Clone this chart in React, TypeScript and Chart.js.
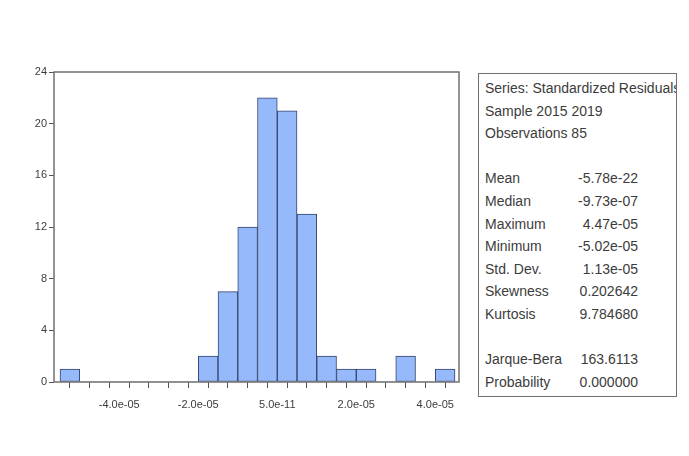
import React, { useEffect, useRef } from "react";
import { Chart, registerables } from "chart.js";

Chart.register(...registerables);

// Histogram bins (centres) and counts
const binCenters = [
  -5.25e-5, -4.75e-5, -4.25e-5, -3.75e-5, -3.25e-5, -2.75e-5, -2.25e-5,
  -1.75e-5, -1.25e-5, -7.5e-6, -2.5e-6, 2.5e-6, 7.5e-6, 1.25e-5, 1.75e-5,
  2.25e-5, 2.75e-5, 3.25e-5, 3.75e-5, 4.25e-5,
];
const counts = [1, 0, 0, 0, 0, 0, 0, 2, 7, 12, 22, 21, 13, 2, 1, 1, 0, 2, 0, 1];

// X axis: minor ticks at bin edges, labelled majors
const xEdges = [
  -5.5e-5, -5.0e-5, -4.5e-5, -4.0e-5, -3.5e-5, -3.0e-5, -2.5e-5, -2.0e-5,
  -1.5e-5, -1.0e-5, -5.0e-6, 0, 5.0e-6, 1.0e-5, 1.5e-5, 2.0e-5, 2.5e-5,
  3.0e-5, 3.5e-5, 4.0e-5, 4.5e-5,
];
const xMajorValues = [-4.0e-5, -2.0e-5, 0, 2.0e-5, 4.0e-5];
const xMajorLabels = ["-4.0e-05", "-2.0e-05", "5.0e-11", "2.0e-05", "4.0e-05"];
const xMin = -5.652e-5;
const xMax = 4.601e-5;

const yMin = 0;
const yMax = 24;
const yStep = 4;

// Statistics box
const headerLines = ["Series: Standardized Residuals", "Sample 2015 2019", "Observations 85"];
const statLabels = ["Mean", "Median", "Maximum", "Minimum", "Std. Dev.", "Skewness", "Kurtosis"];
const statValues = ["-5.78e-22", "-9.73e-07", "4.47e-05", "-5.02e-05", "1.13e-05", "0.202642", "9.784680"];
const testLabels = ["Jarque-Bera", "Probability"];
const testValues = ["163.6113", "0.000000"];

const FONT = "'Liberation Sans', Arial, sans-serif";
const TEXT = "#3c3c3c";
const FRAME = "#707070";

const framePlugin = {
  id: "frame",
  afterDraw(chart: any) {
    const { ctx, chartArea } = chart;
    ctx.save();
    ctx.strokeStyle = FRAME;
    ctx.lineWidth = 1.5;
    ctx.strokeRect(
      chartArea.left,
      chartArea.top,
      chartArea.right - chartArea.left,
      chartArea.bottom - chartArea.top
    );
    ctx.restore();
  },
};

const bgPlugin = {
  id: "bg",
  beforeDraw(chart: any) {
    const { ctx, width, height } = chart;
    ctx.save();
    ctx.fillStyle = "#ffffff";
    ctx.fillRect(0, 0, width, height);
    ctx.restore();
  },
};

function HistChart() {
  const ref = useRef<HTMLCanvasElement | null>(null);
  useEffect(() => {
    if (!ref.current) return;
    const chart = new Chart(ref.current, {
      type: "bar",
      data: {
        datasets: [
          {
            data: binCenters.map((x, i) => ({ x, y: counts[i] })),
            backgroundColor: "#96b9fb",
            borderColor: "#34446e",
            borderWidth: (c: any) => (c.raw && c.raw.y > 0 ? 1 : 0),
            borderSkipped: false,
            barPercentage: 1,
            categoryPercentage: 1,
            grouped: false,
          } as any,
        ],
      },
      options: {
        animation: false,
        responsive: false,
        maintainAspectRatio: false,
        layout: { padding: { left: 0, top: 72, right: 230, bottom: 0 } },
        plugins: {
          legend: { display: false },
          tooltip: { enabled: false },
        },
        scales: {
          x: {
            type: "linear",
            min: xMin,
            max: xMax,
            offset: false,
            border: { display: false },
            grid: {
              drawOnChartArea: false,
              drawTicks: true,
              tickLength: 6,
              tickColor: "#555",
              lineWidth: 1,
            },
            afterBuildTicks(scale: any) {
              scale.ticks = xEdges.map((v) => ({ value: v }));
            },
            afterFit(scale: any) {
              scale.height = 74;
            },
            ticks: {
              autoSkip: false,
              maxRotation: 0,
              minRotation: 0,
              padding: 10,
              color: TEXT,
              font: { family: FONT, size: 11 },
              callback(value: any) {
                const v = Number(value);
                const idx = xMajorValues.findIndex((m) => Math.abs(m - v) < 1e-9);
                return idx >= 0 ? xMajorLabels[idx] : "";
              },
            },
          },
          y: {
            min: yMin,
            max: yMax,
            border: { display: false },
            grid: {
              drawOnChartArea: false,
              drawTicks: true,
              tickLength: 5,
              tickColor: "#555",
            },
            afterFit(scale: any) {
              scale.width = 54;
            },
            ticks: {
              stepSize: yStep,
              padding: 2,
              color: TEXT,
              font: { family: FONT, size: 11 },
            },
          },
        },
      },
      plugins: [bgPlugin, framePlugin],
    });
    return () => chart.destroy();
  }, []);
  return (
    <canvas
      ref={ref}
      width={689}
      height={456}
      style={{ position: "absolute", left: 0, top: 0, width: 689, height: 456 }}
    />
  );
}

function StatsBox() {
  const lineH = 22.6;
  const firstCenter = 87 - 73;
  const rows: { label: string; value?: string; idx: number }[] = [];
  headerLines.forEach((l, i) => rows.push({ label: l, idx: i }));
  statLabels.forEach((l, i) => rows.push({ label: l, value: statValues[i], idx: 4 + i }));
  testLabels.forEach((l, i) => rows.push({ label: l, value: testValues[i], idx: 12 + i }));
  return (
    <div
      style={{
        position: "absolute",
        left: 478,
        top: 73,
        width: 199,
        height: 324,
        boxSizing: "border-box",
        border: `1.5px solid ${FRAME}`,
        overflow: "hidden",
        fontFamily: FONT,
        fontSize: 14,
        color: TEXT,
        background: "#fff",
      }}
    >
      {rows.map((r) => {
        const top = firstCenter + r.idx * lineH - 9;
        return (
          <React.Fragment key={r.label}>
            <div
              style={{
                position: "absolute",
                left: 6,
                top,
                height: 18,
                lineHeight: "18px",
                whiteSpace: "nowrap",
              }}
            >
              {r.label}
            </div>
            {r.value !== undefined && (
              <div
                style={{
                  position: "absolute",
                  right: 677 - 639,
                  top,
                  height: 18,
                  lineHeight: "18px",
                  whiteSpace: "nowrap",
                  textAlign: "right",
                }}
              >
                {r.value}
              </div>
            )}
          </React.Fragment>
        );
      })}
    </div>
  );
}

export default function App() {
  return (
    <div
      style={{
        position: "fixed",
        left: 0,
        top: 0,
        width: 689,
        height: 456,
        background: "#fff",
        overflow: "hidden",
      }}
    >
      <HistChart />
      <StatsBox />
    </div>
  );
}
